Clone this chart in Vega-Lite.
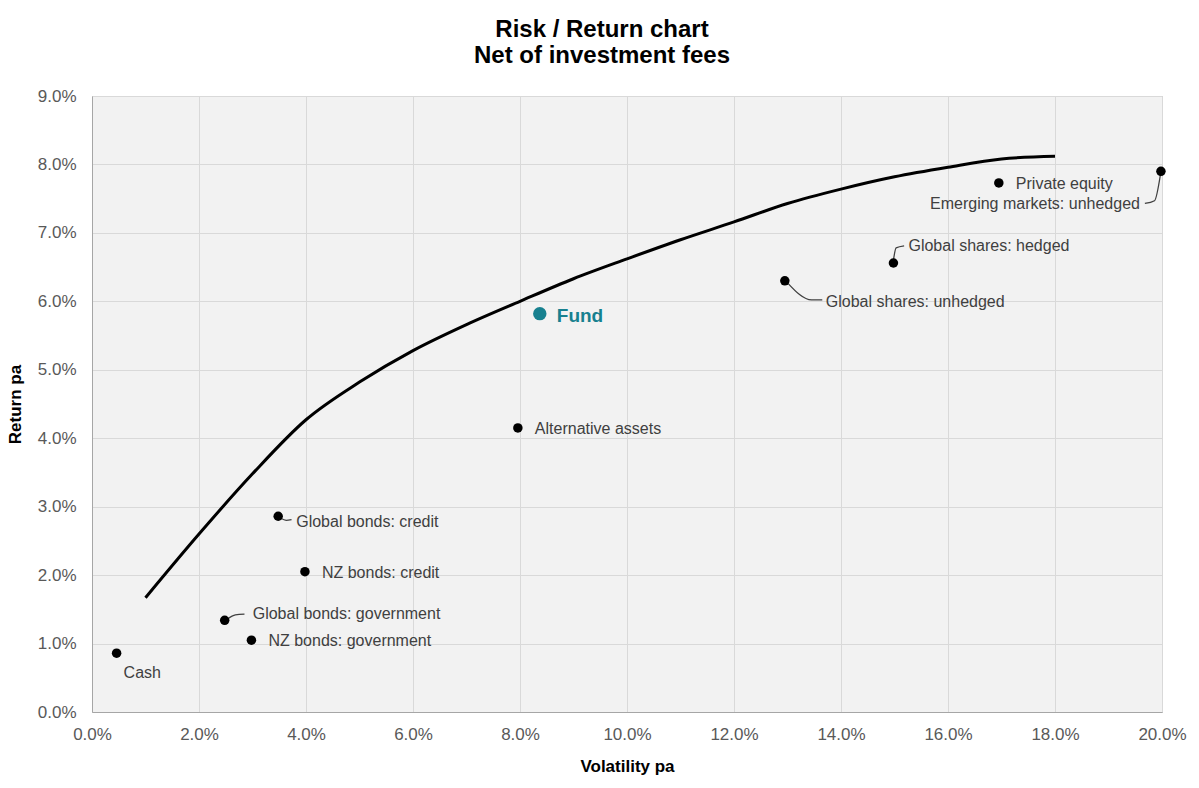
{
  "$schema": "https://vega.github.io/schema/vega-lite/v6.json",
  "autosize": "none",
  "width": 1070,
  "height": 616,
  "padding": {"left": 92, "top": 96, "right": 37, "bottom": 76},
  "background": "white",
  "config": {
    "font": "Liberation Sans",
    "view": {"fill": "#f2f2f2", "stroke": "#bfbfbf", "strokeWidth": 1}
  },
  "title": {
    "text": ["Risk / Return chart", "Net of investment fees"],
    "fontSize": 24,
    "fontWeight": "bold",
    "font": "Liberation Sans",
    "color": "#000000",
    "lineHeight": 26,
    "anchor": "middle",
    "dx": -25,
    "offset": 19
  },
  "datasets": {
    "points": [
      {"name": "Cash", "vol": 0.46, "ret": 0.86},
      {"name": "Global bonds: government", "vol": 2.48, "ret": 1.34},
      {"name": "NZ bonds: government", "vol": 2.98, "ret": 1.05},
      {"name": "NZ bonds: credit", "vol": 3.98, "ret": 2.05},
      {"name": "Global bonds: credit", "vol": 3.48, "ret": 2.86},
      {"name": "Alternative assets", "vol": 7.96, "ret": 4.15},
      {"name": "Global shares: unhedged", "vol": 12.95, "ret": 6.30},
      {"name": "Global shares: hedged", "vol": 14.98, "ret": 6.56},
      {"name": "Private equity", "vol": 16.95, "ret": 7.73},
      {"name": "Emerging markets: unhedged", "vol": 19.98, "ret": 7.90}
    ],
    "fund": [
      {"name": "Fund", "vol": 8.37, "ret": 5.82}
    ],
    "frontier": [
      {"vol": 1.0, "ret": 1.67},
      {"vol": 2.0, "ret": 2.60},
      {"vol": 3.0, "ret": 3.48},
      {"vol": 4.0, "ret": 4.27},
      {"vol": 5.0, "ret": 4.82},
      {"vol": 6.0, "ret": 5.28},
      {"vol": 7.0, "ret": 5.66},
      {"vol": 8.0, "ret": 6.00},
      {"vol": 9.0, "ret": 6.33},
      {"vol": 10.0, "ret": 6.62},
      {"vol": 11.0, "ret": 6.90},
      {"vol": 12.0, "ret": 7.16},
      {"vol": 13.0, "ret": 7.43},
      {"vol": 14.0, "ret": 7.64},
      {"vol": 15.0, "ret": 7.82},
      {"vol": 16.0, "ret": 7.96},
      {"vol": 17.0, "ret": 8.08},
      {"vol": 18.0, "ret": 8.12}
    ],
    "leaders": [
      {"grp": "gbg", "ord": 1, "vol": 2.53, "ret": 1.36},
      {"grp": "gbg", "ord": 2, "vol": 2.68, "ret": 1.42},
      {"grp": "gbg", "ord": 3, "vol": 2.85, "ret": 1.43},
      {"grp": "gbc", "ord": 1, "vol": 3.53, "ret": 2.83},
      {"grp": "gbc", "ord": 2, "vol": 3.63, "ret": 2.80},
      {"grp": "gbc", "ord": 3, "vol": 3.73, "ret": 2.81},
      {"grp": "gsu", "ord": 1, "vol": 13.0, "ret": 6.27},
      {"grp": "gsu", "ord": 2, "vol": 13.45, "ret": 6.02},
      {"grp": "gsu", "ord": 3, "vol": 13.65, "ret": 6.02},
      {"grp": "gsh", "ord": 1, "vol": 14.98, "ret": 6.6},
      {"grp": "gsh", "ord": 2, "vol": 15.03, "ret": 6.78},
      {"grp": "gsh", "ord": 3, "vol": 15.18, "ret": 6.81},
      {"grp": "emu", "ord": 1, "vol": 19.97, "ret": 7.85},
      {"grp": "emu", "ord": 2, "vol": 19.86, "ret": 7.47},
      {"grp": "emu", "ord": 3, "vol": 19.68, "ret": 7.43}
    ]
  },
  "encoding": {
    "x": {
      "field": "vol",
      "type": "quantitative",
      "scale": {"domain": [0, 20], "nice": false},
      "axis": {
        "title": "Volatility pa",
        "values": [0, 2, 4, 6, 8, 10, 12, 14, 16, 18, 20],
        "labelExpr": "format(datum.value, '.1f') + '%'",
        "labelFlush": false,
        "labelFont": "Liberation Sans",
        "labelFontSize": 17,
        "labelColor": "#595959",
        "labelPadding": 14,
        "titleFont": "Liberation Sans",
        "titleFontSize": 17,
        "titleFontWeight": "bold",
        "titleColor": "#000000",
        "titlePadding": 16,
        "ticks": false,
        "domainColor": "#a6a6a6",
        "gridColor": "#d9d9d9",
        "gridWidth": 1
      }
    },
    "y": {
      "field": "ret",
      "type": "quantitative",
      "scale": {"domain": [0, 9], "nice": false},
      "axis": {
        "title": "Return pa",
        "values": [0, 1, 2, 3, 4, 5, 6, 7, 8, 9],
        "labelExpr": "format(datum.value, '.1f') + '%'",
        "labelFlush": false,
        "labelFont": "Liberation Sans",
        "labelFontSize": 17,
        "labelColor": "#595959",
        "labelPadding": 16,
        "titleFont": "Liberation Sans",
        "titleFontSize": 17,
        "titleFontWeight": "bold",
        "titleColor": "#000000",
        "titlePadding": 13,
        "ticks": false,
        "domainColor": "#a6a6a6",
        "gridColor": "#d9d9d9",
        "gridWidth": 1
      }
    }
  },
  "layer": [
    {
      "data": {"name": "frontier"},
      "mark": {"type": "line", "color": "#000000", "strokeWidth": 3, "interpolate": "monotone"}
    },
    {
      "data": {"name": "leaders"},
      "mark": {"type": "line", "color": "#404040", "strokeWidth": 1.3, "interpolate": "monotone"},
      "encoding": {
        "detail": {"field": "grp"},
        "order": {"field": "ord"}
      }
    },
    {
      "data": {"name": "points"},
      "mark": {"type": "point", "filled": true, "shape": "circle", "size": 90, "color": "#000000", "opacity": 1}
    },
    {
      "data": {"name": "fund"},
      "mark": {"type": "point", "filled": true, "shape": "circle", "size": 180, "color": "#17808f", "opacity": 1}
    },
    {
      "data": {"name": "fund"},
      "mark": {"type": "text", "align": "left", "baseline": "middle", "dx": 17, "dy": 2, "fontSize": 19, "fontWeight": "bold", "color": "#17808f"},
      "encoding": {"text": {"field": "name"}}
    },
    {
      "data": {"name": "points"},
      "transform": [{"filter": "indexof(['NZ bonds: government','NZ bonds: credit','Alternative assets','Private equity'], datum.name) >= 0"}],
      "mark": {"type": "text", "align": "left", "baseline": "middle", "dx": 17, "dy": 1, "fontSize": 16, "color": "#404040"},
      "encoding": {"text": {"field": "name"}}
    },
    {
      "data": {"name": "points"},
      "transform": [{"filter": "datum.name == 'Global bonds: credit'"}],
      "mark": {"type": "text", "align": "left", "baseline": "middle", "dx": 18, "dy": 6, "fontSize": 16, "color": "#404040"},
      "encoding": {"text": {"field": "name"}}
    },
    {
      "data": {"name": "points"},
      "transform": [{"filter": "datum.name == 'Cash'"}],
      "mark": {"type": "text", "align": "left", "baseline": "middle", "dx": 7, "dy": 20, "fontSize": 16, "color": "#404040"},
      "encoding": {"text": {"field": "name"}}
    },
    {
      "data": {"name": "points"},
      "transform": [{"filter": "datum.name == 'Global bonds: government'"}],
      "mark": {"type": "text", "align": "left", "baseline": "middle", "dx": 28, "dy": -6, "fontSize": 16, "color": "#404040"},
      "encoding": {"text": {"field": "name"}}
    },
    {
      "data": {"name": "points"},
      "transform": [{"filter": "datum.name == 'Global shares: unhedged'"}],
      "mark": {"type": "text", "align": "left", "baseline": "middle", "dx": 41, "dy": 21, "fontSize": 16, "color": "#404040"},
      "encoding": {"text": {"field": "name"}}
    },
    {
      "data": {"name": "points"},
      "transform": [{"filter": "datum.name == 'Global shares: hedged'"}],
      "mark": {"type": "text", "align": "left", "baseline": "middle", "dx": 15, "dy": -17, "fontSize": 16, "color": "#404040"},
      "encoding": {"text": {"field": "name"}}
    },
    {
      "data": {"name": "points"},
      "transform": [{"filter": "datum.name == 'Emerging markets: unhedged'"}],
      "mark": {"type": "text", "align": "right", "baseline": "middle", "dx": -21, "dy": 33, "fontSize": 16, "color": "#404040"},
      "encoding": {"text": {"field": "name"}}
    }
  ]
}
